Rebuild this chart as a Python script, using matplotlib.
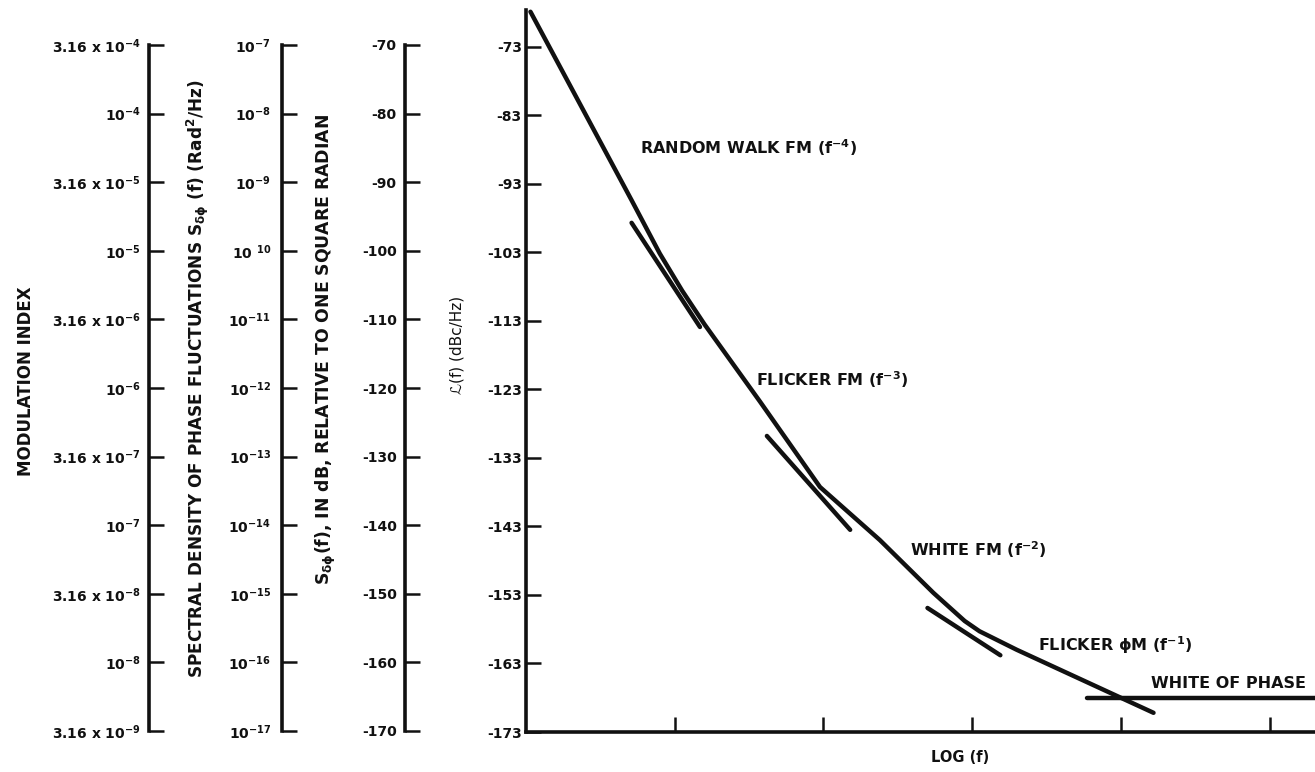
import matplotlib.pyplot as plt

plt.rcParams['font.family'] = 'DejaVu Sans'
plt.rcParams['font.weight'] = 'bold'
plt.rcParams['mathtext.fontset'] = 'custom'
plt.rcParams['mathtext.rm'] = 'DejaVu Sans:bold'
plt.rcParams['mathtext.it'] = 'DejaVu Sans:bold'
plt.rcParams['mathtext.bf'] = 'DejaVu Sans:bold'
plt.rcParams['mathtext.default'] = 'rm'

W, H = 1315, 772
INK = '#111111'

# left hand scales
mod_ticks = [3.16e-9, 1e-8, 3.16e-8, 1e-7, 3.16e-7, 1e-6, 3.16e-6, 1e-5, 3.16e-5, 1e-4, 3.16e-4]
mod_labels = ['3.16 x 10$^{-9}$', '10$^{-8}$', '3.16 x 10$^{-8}$', '10$^{-7}$', '3.16 x 10$^{-7}$',
              '10$^{-6}$', '3.16 x 10$^{-6}$', '10$^{-5}$', '3.16 x 10$^{-5}$', '10$^{-4}$',
              '3.16 x 10$^{-4}$']
sd_ticks = [1e-17, 1e-16, 1e-15, 1e-14, 1e-13, 1e-12, 1e-11, 1e-10, 1e-9, 1e-8, 1e-7]
sd_labels = ['10$^{-17}$', '10$^{-16}$', '10$^{-15}$', '10$^{-14}$', '10$^{-13}$', '10$^{-12}$',
             '10$^{-11}$', '10 $^{10}$', '10$^{-9}$', '10$^{-8}$', '10$^{-7}$']
db_ticks = [-170, -160, -150, -140, -130, -120, -110, -100, -90, -80, -70]
db_labels = ['-170', '-160', '-150', '-140', '-130', '-120', '-110', '-100', '-90', '-80', '-70']
lf_ticks = [-173, -163, -153, -143, -133, -123, -113, -103, -93, -83, -73]
lf_labels = ['-173', '-163', '-153', '-143', '-133', '-123', '-113', '-103', '-93', '-83', '-73']
x_ticks = [1, 2, 3, 4, 5]

# phase noise curve, x in decades of log(f), y in dBc/Hz
curve_x = [0.03, 0.71, 0.90, 1.05, 1.20, 1.574, 1.977, 2.38, 2.74, 2.95, 3.05, 3.30, 3.64, 3.97, 4.22]
curve_y = [-67.9, -95.4, -103.2, -108.6, -113.5, -124.8, -137.25, -145.0, -152.7, -156.8, -158.3,
           -161.0, -164.4, -167.7, -170.2]
# short asymptote pieces at the corners
seg1_x, seg1_y = [0.71, 1.17], [-98.7, -113.9]
seg2_x, seg2_y = [1.62, 2.18], [-129.8, -143.5]
seg3_x, seg3_y = [2.70, 3.19], [-154.9, -161.8]
white_x, white_y = [3.77, 5.4], [-168.0, -168.0]

fig = plt.figure(figsize=(W / 100, H / 100), dpi=100)


def fx(px):
    return px / W


def fy(py):
    return 1 - py / H


def scale_axis(x, top, bottom, width=40):
    ax = fig.add_axes([fx(x), fy(bottom), width / W, (bottom - top) / H])
    ax.patch.set_alpha(0)
    for s in ['top', 'right', 'bottom']:
        ax.spines[s].set_visible(False)
    ax.spines['left'].set_linewidth(2.6)
    ax.spines['left'].set_color(INK)
    ax.set_xticks([])
    ax.tick_params(axis='y', direction='in', length=11, width=1.8, color=INK,
                   labelsize=10, labelcolor=INK)
    ax.minorticks_off()
    return ax


ax1 = scale_axis(149, 45, 731)
ax1.set_yscale('log')
ax1.set_ylim(3.16e-9, 3.16e-4)
ax1.set_yticks(mod_ticks)
ax1.set_yticklabels(mod_labels)
ax1.minorticks_off()
ax1.tick_params(axis='y', pad=6)

ax2 = scale_axis(282, 45, 731)
ax2.set_yscale('log')
ax2.set_ylim(1e-17, 1e-7)
ax2.set_yticks(sd_ticks)
ax2.set_yticklabels(sd_labels)
ax2.minorticks_off()
ax2.tick_params(axis='y', pad=8)

ax3 = scale_axis(405, 45, 731)
ax3.set_ylim(-170, -70)
ax3.set_yticks(db_ticks)
ax3.set_yticklabels(db_labels)
ax3.tick_params(axis='y', pad=6)

# main plot
ax = fig.add_axes([fx(526), fy(732), (W - 526) / W, (732 - 10) / H])
ax.patch.set_alpha(0)
ax.set_xlim(0, (W - 526) / 148.7)
ax.set_ylim(-173, -173 + 722 / 6.853)
for s in ['top', 'right']:
    ax.spines[s].set_visible(False)
for s in ['left', 'bottom']:
    ax.spines[s].set_linewidth(2.6)
    ax.spines[s].set_color(INK)
ax.set_yticks(lf_ticks)
ax.set_yticklabels(lf_labels)
ax.set_xticks(x_ticks)
ax.set_xticklabels([])
ax.tick_params(axis='both', direction='in', length=11, width=1.8, color=INK,
               labelsize=10, labelcolor=INK)
ax.tick_params(axis='y', pad=3)

lw = 3.2
ax.plot(curve_x, curve_y, color=INK, lw=lw, solid_capstyle='round', solid_joinstyle='round', clip_on=False)
ax.plot(seg1_x, seg1_y, color=INK, lw=lw, solid_capstyle='round')
ax.plot(seg2_x, seg2_y, color=INK, lw=lw, solid_capstyle='round')
ax.plot(seg3_x, seg3_y, color=INK, lw=lw, solid_capstyle='round')
ax.plot(white_x, white_y, color=INK, lw=lw, solid_capstyle='round')

tk = dict(fontsize=11.5, color=INK, va='center', ha='left')
ax.text(0.77, -87.8, 'RANDOM WALK FM (f$^{-4}$)', **tk)
ax.text(1.55, -121.6, 'FLICKER FM (f$^{-3}$)', **tk)
ax.text(2.58, -146.4, 'WHITE FM (f$^{-2}$)', **tk)
ax.text(3.44, -160.3, 'FLICKER ϕM (f$^{-1}$)', **tk)
ax.text(4.20, -165.85, 'WHITE OF PHASE', **tk)

fig.text(fx(960), fy(757), 'LOG (f)', fontsize=10.5, color=INK, ha='center', va='center')

# axis titles
fig.text(fx(26), fy(381), 'MODULATION INDEX', rotation=90, fontsize=12, color=INK,
         ha='center', va='center')
fig.text(fx(198), fy(379), 'SPECTRAL DENSITY OF PHASE FLUCTUATIONS S$_{δϕ}$ (f) (Rad$^{2}$/Hz)',
         rotation=90, fontsize=12.2, color=INK, ha='center', va='center')
fig.text(fx(326), fy(350), 'S$_{δϕ}$(f), IN dB, RELATIVE TO ONE SQUARE RADIAN', rotation=90,
         fontsize=12.4, color=INK, ha='center', va='center')
fig.text(fx(457), fy(345), 'ℒ(f) (dBc/Hz)', rotation=90, fontsize=11, color=INK,
         fontweight='normal', ha='center', va='center')

fig.savefig('out.png', dpi=100)
